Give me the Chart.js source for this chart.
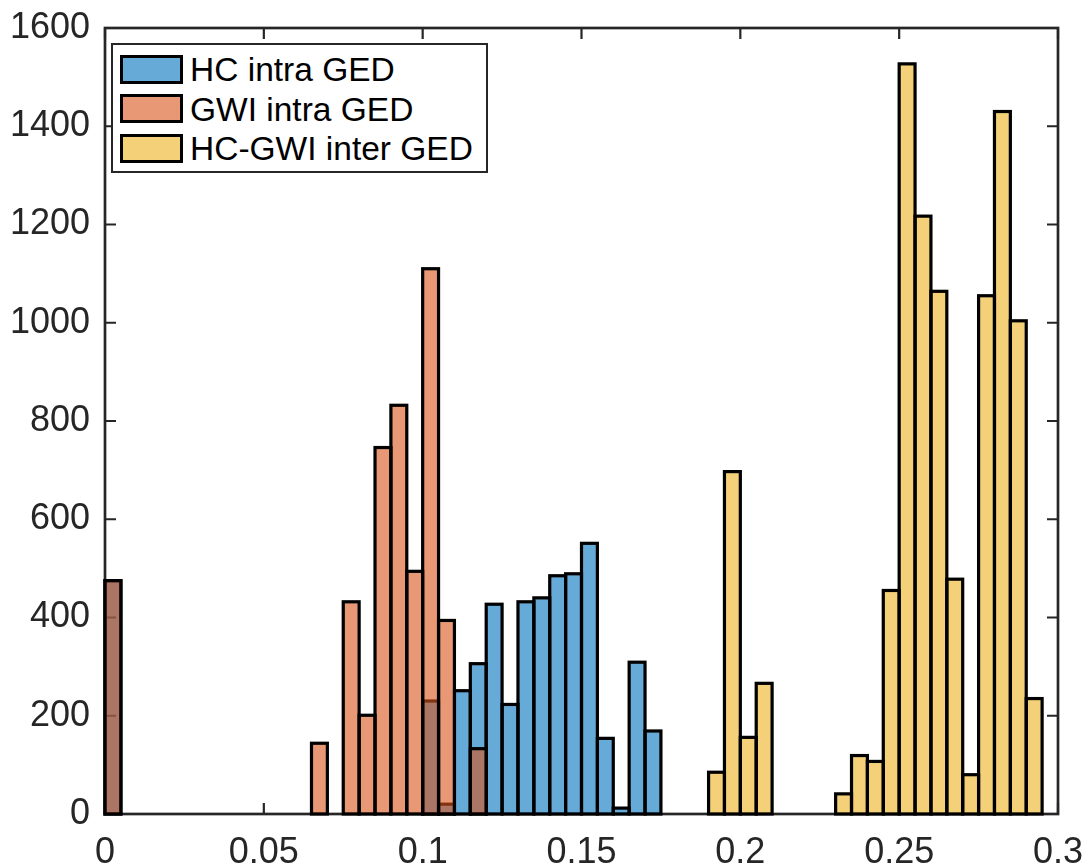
<!DOCTYPE html>
<html>
<head>
<meta charset="utf-8">
<script src="https://cdn.jsdelivr.net/npm/chart.js@4.4.1/dist/chart.umd.min.js"></script>
<style>
  html, body { margin: 0; padding: 0; background: #ffffff; }
  #wrap { position: relative; width: 1089px; height: 865px; overflow: hidden; }
  #chart { display: block; }
  #legendBox { position: absolute; left: 111px; top: 43px; width: 377px; height: 130px;
               box-sizing: border-box; border: 2.5px solid #262626; background: #ffffff; }
  .sw { position: absolute; left: 120px; width: 63px; height: 29px; box-sizing: border-box;
        border: 3px solid #000000; background: #ffffff; }
  .sw i { display: block; width: 100%; height: 100%; }
  .lt { position: absolute; left: 190px; font-family: "Liberation Sans", Arial, sans-serif;
        font-size: 33.5px; line-height: 33px; color: #000000; white-space: nowrap; }
</style>
</head>
<body>
<div id="wrap">
  <canvas id="chart" width="1089" height="865"></canvas>
  <div id="legendBox"></div>
</div>
<script>
// ---------------- data ----------------
const binWidth = 0.005;
const seriesNames = ['HC intra GED', 'GWI intra GED', 'HC-GWI inter GED'];

const hcBinStarts = [0.000, 0.100, 0.105, 0.110, 0.115, 0.120, 0.125, 0.130, 0.135, 0.140,
                     0.145, 0.150, 0.155, 0.160, 0.165, 0.170];
const hcCounts    = [475, 230, 20, 251, 306, 427, 223, 432, 440, 485,
                     489, 551, 154, 12, 309, 169];

const gwiBinStarts = [0.000, 0.065, 0.075, 0.080, 0.085, 0.090, 0.095, 0.100, 0.105, 0.115];
const gwiCounts    = [475, 144, 432, 201, 746, 832, 494, 1110, 394, 133];

const interBinStarts = [0.190, 0.195, 0.200, 0.205, 0.230, 0.235, 0.240, 0.245, 0.250, 0.255,
                        0.260, 0.265, 0.270, 0.275, 0.280, 0.285, 0.290];
const interCounts    = [85, 697, 156, 266, 41, 119, 107, 455, 1527, 1217,
                        1064, 478, 80, 1055, 1430, 1004, 235];

const xTickValues = [0, 0.05, 0.1, 0.15, 0.2, 0.25, 0.3];
const xTickLabels = ['0', '0.05', '0.1', '0.15', '0.2', '0.25', '0.3'];
const yTickValues = [0, 200, 400, 600, 800, 1000, 1200, 1400, 1600];
const yTickLabels = ['0', '200', '400', '600', '800', '1000', '1200', '1400', '1600'];

// ---------------- styling ----------------
const FONT = '"Liberation Sans", Arial, Helvetica, sans-serif';
const AXIS = '#262626';
const fills = ['rgba(0,114,189,0.6)', 'rgba(217,83,25,0.6)', 'rgba(237,177,32,0.6)'];

function toPoints(starts, counts) {
  return starts.map((s, i) => ({ x: s + binWidth / 2, y: counts[i] }));
}

// legend (HTML, real text)
(function buildLegend() {
  const wrap = document.getElementById('wrap');
  const centers = [69, 108.5, 148];
  seriesNames.forEach((name, i) => {
    const sw = document.createElement('div');
    sw.className = 'sw';
    sw.style.top = (centers[i] - 14.5) + 'px';
    const fill = document.createElement('i');
    fill.style.background = fills[i];
    sw.appendChild(fill);
    wrap.appendChild(sw);
    const t = document.createElement('div');
    t.className = 'lt';
    t.textContent = name;
    t.style.top = (centers[i] - 16) + 'px';
    wrap.appendChild(t);
  });
})();

// axes box + inward ticks on all four sides (drawn beneath the bars)
const matlabAxes = {
  id: 'matlabAxes',
  beforeDatasetsDraw(chart) {
    const { ctx, chartArea: a, scales } = chart;
    ctx.save();
    ctx.strokeStyle = AXIS;
    ctx.lineWidth = 2.2;
    const len = 11;
    xTickValues.forEach(v => {
      const px = scales.x.getPixelForValue(v);
      ctx.beginPath();
      ctx.moveTo(px, a.bottom); ctx.lineTo(px, a.bottom - len);
      ctx.moveTo(px, a.top); ctx.lineTo(px, a.top + len);
      ctx.stroke();
    });
    yTickValues.forEach(v => {
      const py = scales.y.getPixelForValue(v);
      ctx.beginPath();
      ctx.moveTo(a.left, py); ctx.lineTo(a.left + len, py);
      ctx.moveTo(a.right, py); ctx.lineTo(a.right - len, py);
      ctx.stroke();
    });
    ctx.lineWidth = 2.7;
    ctx.strokeRect(a.left, a.top, a.right - a.left, a.bottom - a.top);
    ctx.restore();
  }
};

// black centred bar edges, stroked right after each dataset so later datasets cover them
const barEdges = {
  id: 'barEdges',
  afterDatasetDraw(chart, args) {
    const { ctx } = chart;
    ctx.save();
    ctx.strokeStyle = '#000000';
    ctx.lineWidth = 3.2;
    ctx.lineJoin = 'miter';
    args.meta.data.forEach(el => {
      const p = el.getProps(['x', 'y', 'base', 'width'], true);
      ctx.strokeRect(p.x - p.width / 2, p.y, p.width, p.base - p.y);
    });
    ctx.restore();
  }
};

const common = { barPercentage: 1, categoryPercentage: 1, grouped: false, borderWidth: 0, inflateAmount: 0 };

new Chart(document.getElementById('chart'), {
  type: 'bar',
  data: {
    datasets: [
      Object.assign({ label: seriesNames[0], data: toPoints(hcBinStarts, hcCounts), backgroundColor: fills[0], order: 3 }, common),
      Object.assign({ label: seriesNames[1], data: toPoints(gwiBinStarts, gwiCounts), backgroundColor: fills[1], order: 2 }, common),
      Object.assign({ label: seriesNames[2], data: toPoints(interBinStarts, interCounts), backgroundColor: fills[2], order: 1 }, common)
    ]
  },
  options: {
    responsive: false,
    animation: false,
    devicePixelRatio: 1,
    layout: { padding: { left: 0, right: 31, top: 28, bottom: 0 } },
    plugins: { legend: { display: false }, tooltip: { enabled: false } },
    scales: {
      x: {
        type: 'linear', min: 0, max: 0.3, offset: false,
        grid: { display: false, drawTicks: false, offset: false },
        border: { display: false },
        afterBuildTicks: s => { s.ticks = xTickValues.map(v => ({ value: v })); },
        afterFit: s => { s.height = 51; s.paddingLeft = 0; s.paddingRight = 0; },
        ticks: {
          autoSkip: false, maxRotation: 0, minRotation: 0, padding: 17,
          color: AXIS, font: { family: FONT, size: 36 },
          callback: (v, i) => xTickLabels[i]
        }
      },
      y: {
        type: 'linear', min: 0, max: 1600,
        grid: { display: false, drawTicks: false },
        border: { display: false },
        afterBuildTicks: s => { s.ticks = yTickValues.map(v => ({ value: v })); },
        afterFit: s => { s.width = 105; s.paddingTop = 0; s.paddingBottom = 0; },
        ticks: {
          autoSkip: false, padding: 15,
          color: AXIS, font: { family: FONT, size: 36 },
          callback: (v, i) => yTickLabels[i]
        }
      }
    }
  },
  plugins: [matlabAxes, barEdges]
});
</script>
</body>
</html>
